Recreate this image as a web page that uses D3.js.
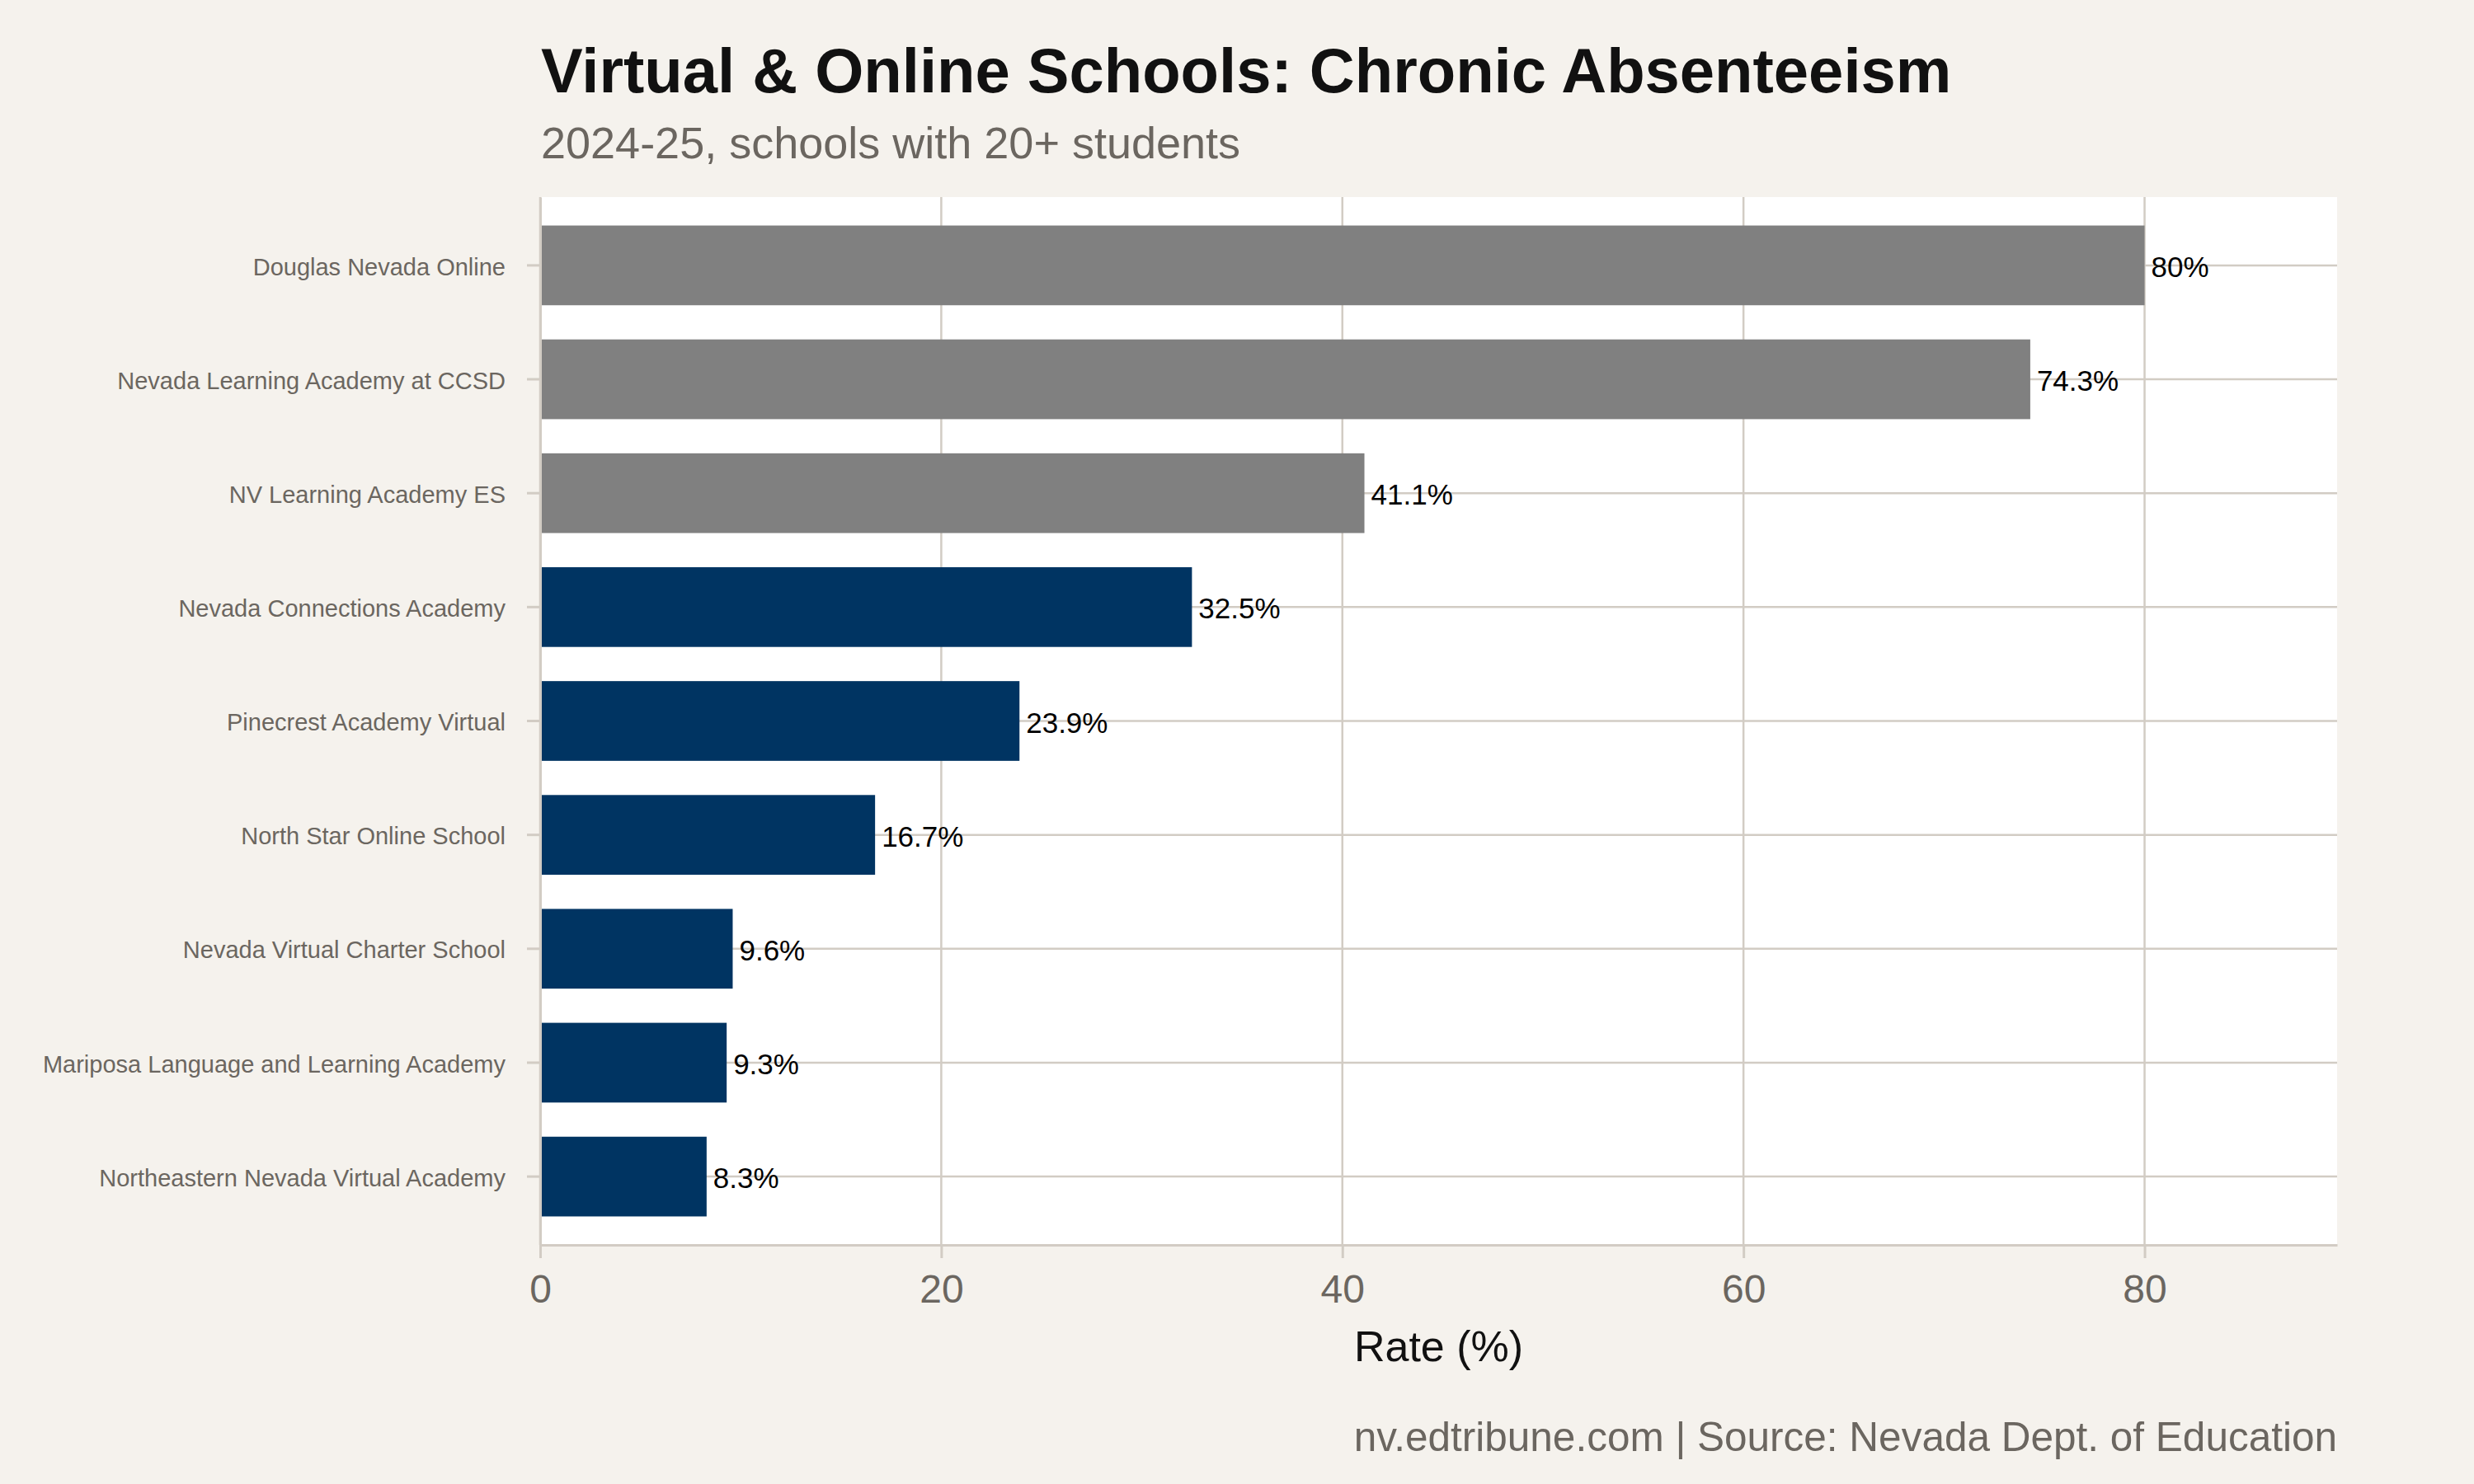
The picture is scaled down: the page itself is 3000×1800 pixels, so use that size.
<!DOCTYPE html>
<html>
<head>
<meta charset="utf-8">
<script src="https://cdn.jsdelivr.net/npm/d3@7"></script>
<style>
  body { margin: 0; background: #f5f2ed; }
  svg { display: block; font-family: "Liberation Sans", Arial, Helvetica, sans-serif; }
</style>
</head>
<body>
<svg id="chart" width="3000" height="1800"></svg>
<script>
// school names, top to bottom
var schools = [
    "Douglas Nevada Online",
    "Nevada Learning Academy at CCSD",
    "NV Learning Academy ES",
    "Nevada Connections Academy",
    "Pinecrest Academy Virtual",
    "North Star Online School",
    "Nevada Virtual Charter School",
    "Mariposa Language and Learning Academy",
    "Northeastern Nevada Virtual Academy"
];
// chronic absenteeism rate (%)
var rates = [80, 74.3, 41.1, 32.5, 23.9, 16.7, 9.6, 9.3, 8.3];
// which bars are greyed out
var greyed = [true, true, true, false, false, false, false, false, false];
var xTicks = [0, 20, 40, 60, 80];

var svg = d3.select("#chart");
var margin = { top: 239, right: 166, bottom: 290, left: 655 };
var width = 3000 - margin.left - margin.right,
    height = 1800 - margin.top - margin.bottom;

var gridColor = "#d2ccc4";

// Title and subtitle
svg.append("text")
    .attr("x", 656).attr("y", 112)
    .attr("font-size", 76).attr("font-weight", "bold")
    .attr("fill", "#111")
    .text("Virtual & Online Schools: Chronic Absenteeism");
svg.append("text")
    .attr("x", 656).attr("y", 192)
    .attr("font-size", 54)
    .attr("fill", "#6b6660")
    .text("2024-25, schools with 20+ students");

var g = svg.append("g").attr("transform", "translate(" + margin.left + "," + margin.top + ")");

var x = d3.scaleLinear().domain([0, d3.max(rates) * 1.12]).range([0, width]);
var y = d3.scaleBand().domain(schools).range([0, height]).paddingInner(0.3).paddingOuter(0.25);

// panel
g.append("rect").attr("width", width).attr("height", height).attr("fill", "#fff");

// gridlines
g.selectAll(".vgrid").data(xTicks).enter().append("line")
    .attr("x1", function(d) { return x(d); }).attr("x2", function(d) { return x(d); })
    .attr("y1", 0).attr("y2", height)
    .attr("stroke", gridColor).attr("stroke-width", 2.5);
g.selectAll(".hgrid").data(schools).enter().append("line")
    .attr("x1", 0).attr("x2", width)
    .attr("y1", function(d) { return y(d) + y.bandwidth() / 2; })
    .attr("y2", function(d) { return y(d) + y.bandwidth() / 2; })
    .attr("stroke", gridColor).attr("stroke-width", 2.5);

// bars
g.selectAll(".bar").data(rates).enter().append("rect")
    .attr("x", x(0))
    .attr("y", function(d, i) { return y(schools[i]); })
    .attr("width", function(d) { return x(d) - x(0); })
    .attr("height", y.bandwidth())
    .attr("fill", function(d, i) { return greyed[i] ? "#808080" : "#003462"; });

// value labels
g.selectAll(".val").data(rates).enter().append("text")
    .attr("x", function(d) { return x(d) + 8; })
    .attr("y", function(d, i) { return y(schools[i]) + y.bandwidth() / 2; })
    .attr("dy", "0.4em")
    .attr("font-size", 35)
    .attr("fill", "#000")
    .text(function(d) { return d + "%"; });

// x axis
var xAxis = g.append("g").attr("transform", "translate(0," + height + ")")
    .call(d3.axisBottom(x).tickValues(xTicks).tickSize(16).tickSizeOuter(0).tickPadding(20).tickFormat(d3.format("d")));
xAxis.select(".domain").attr("stroke", gridColor).attr("stroke-width", 3);
xAxis.selectAll(".tick line").attr("stroke", gridColor).attr("stroke-width", 3);
xAxis.selectAll(".tick text").attr("font-size", 48).attr("fill", "#6b6660")
    .attr("font-family", "Liberation Sans, Arial, sans-serif");

// y axis
var yAxis = g.append("g")
    .call(d3.axisLeft(y).tickSize(16).tickSizeOuter(0).tickPadding(26));
yAxis.select(".domain").attr("stroke", gridColor).attr("stroke-width", 3);
yAxis.selectAll(".tick line").attr("stroke", gridColor).attr("stroke-width", 3);
yAxis.selectAll(".tick text").attr("font-size", 29).attr("fill", "#6b6660")
    .attr("dy", "0.4em")
    .attr("font-family", "Liberation Sans, Arial, sans-serif");

// axis title
svg.append("text")
    .attr("x", margin.left + width / 2).attr("y", 1651)
    .attr("text-anchor", "middle")
    .attr("font-size", 52).attr("fill", "#111")
    .text("Rate (%)");

// caption
svg.append("text")
    .attr("x", margin.left + width).attr("y", 1760)
    .attr("text-anchor", "end")
    .attr("font-size", 49.5).attr("fill", "#6b6660")
    .text("nv.edtribune.com | Source: Nevada Dept. of Education");
</script>
</body>
</html>
